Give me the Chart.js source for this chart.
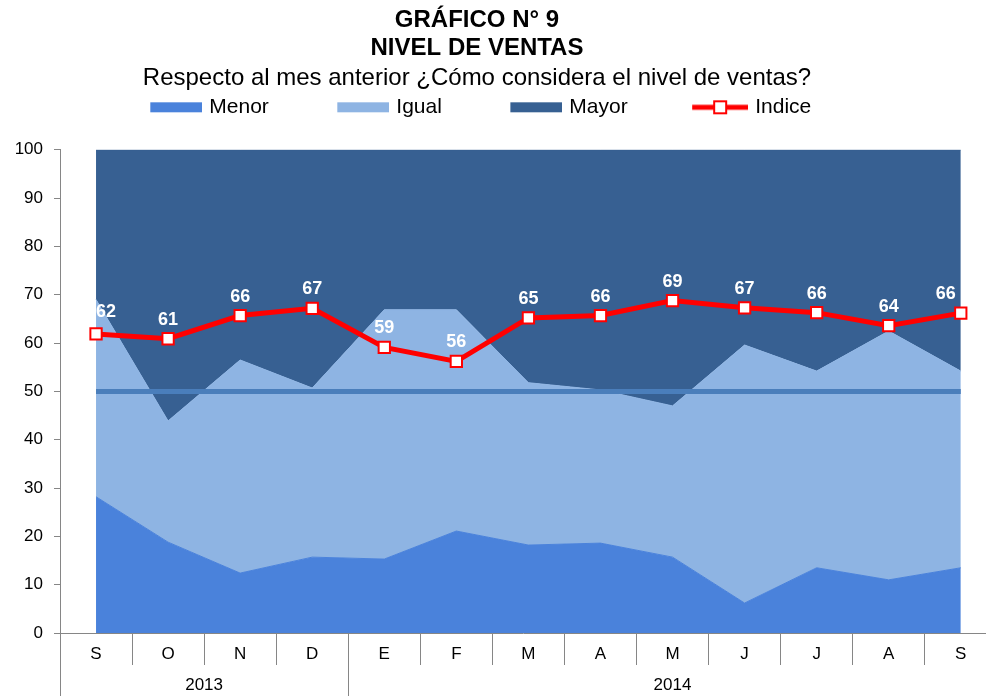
<!DOCTYPE html>
<html lang="es">
<head>
<meta charset="utf-8">
<title>Gráfico N° 9 - Nivel de ventas</title>
<script src="https://cdn.jsdelivr.net/npm/chart.js@4.4.1/dist/chart.umd.min.js"></script>
<style>
	html, body { margin: 0; padding: 0; background: #fff; overflow: hidden; }
	#wrap { width: 986px; height: 696px; }
</style>
</head>
<body>
<div id="wrap"><canvas id="ventas" width="986" height="696"></canvas></div>
<script>
const meses = ['S', 'O', 'N', 'D', 'E', 'F', 'M', 'A', 'M', 'J', 'J', 'A', 'S']
const anios = ['2013', '2014']
const anioDesde = [0, 4]
const anioHasta = [3, 12]

const menor = [28.2, 18.8, 12.4, 15.7, 15.3, 21.1, 18.2, 18.6, 15.7, 6.2, 13.5, 11.0, 13.5]
const igual = [40.8, 25.1, 44.1, 35.0, 51.6, 45.8, 33.6, 31.7, 31.3, 53.4, 40.7, 51.5, 40.7]
const mayor = [31.0, 56.1, 43.5, 49.3, 33.1, 33.1, 48.2, 49.7, 53.0, 40.4, 45.8, 37.5, 45.8]
const indice = [61.9, 60.9, 65.7, 67.2, 59.1, 56.2, 65.2, 65.7, 68.8, 67.3, 66.3, 63.6, 66.2]
const neutro = [50, 50, 50, 50, 50, 50, 50, 50, 50, 50, 50, 50, 50]

const colMenor = '#4a82db'
const colIgual = '#8eb4e3'
const colMayor = '#376092'
const colNeutro = '#4a7ebb'
const rojo = '#ff0000'
const gris = '#868686'
const fuente = "'Liberation Sans', Arial, sans-serif"

Chart.defaults.font.family = fuente
Chart.defaults.color = '#000'

const puntos = arr => arr.map((v, i) => ({ x: i, y: v }))

// cortes y centros de los años en el eje inferior
const cortes = anioDesde.map(d => d - 0.5)
const centros = anioDesde.map((d, k) => (d + anioHasta[k]) / 2)

// iconos de la leyenda (espacio vacío a la izquierda para separar items)
function icono(tipo, color) {
	const c = document.createElement('canvas')
	c.width = 119
	c.height = 20
	const g = c.getContext('2d')
	if (tipo === 'caja') {
		g.fillStyle = color
		g.fillRect(c.width - 52, 5, 52, 10)
	} else {
		g.strokeStyle = color
		g.lineWidth = 5
		g.beginPath()
		g.moveTo(c.width - 56, 10)
		g.lineTo(c.width, 10)
		g.stroke()
		g.fillStyle = '#fff'
		g.fillRect(c.width - 34, 4, 12, 12)
		g.lineWidth = 2
		g.strokeRect(c.width - 34, 4, 12, 12)
	}
	return c
}
const iconos = [icono('caja', colMenor), icono('caja', colIgual), icono('caja', colMayor), icono('linea', rojo)]

const etiquetas = {
	id: 'etiquetas',
	afterDatasetsDraw(chart) {
		const ctx = chart.ctx
		const pts = chart.getDatasetMeta(3).data
		ctx.save()
		ctx.font = 'bold 18px ' + fuente
		ctx.fillStyle = '#fff'
		ctx.textBaseline = 'bottom'
		pts.forEach((p, i) => {
			let dx = 0
			let dy = 10
			ctx.textAlign = 'center'
			if (i === 0) { ctx.textAlign = 'left'; dy = 13 }
			if (i === pts.length - 1) { ctx.textAlign = 'right'; dx = -5 }
			ctx.fillText(Math.round(indice[i]), p.x + dx, p.y - dy)
		})
		ctx.restore()
	}
}

const ajustes = {
	id: 'ajustes',
	beforeLayout(chart) {
		const lg = chart.legend
		if (lg && !lg._extra) {
			const fit = lg.fit
			lg.fit = function () {
				fit.call(this)
				this.height += 22
			}
			lg._extra = true
		}
	},
	afterUpdate(chart) {
		chart.boxes.forEach(b => {
			if (b.position !== 'top') return
			const dx = b === chart.legend ? 44 : 16
			b.left -= dx
			b.right -= dx
		})
	}
}

new Chart(document.getElementById('ventas'), {
	type: 'line',
	data: {
		datasets: [
			{
				label: 'Menor', data: puntos(menor), stack: 'areas', order: 2,
				backgroundColor: colMenor, borderColor: colMenor, borderWidth: 1, fill: 'origin', pointRadius: 0
			},
			{
				label: 'Igual', data: puntos(igual), stack: 'areas', order: 2,
				backgroundColor: colIgual, borderColor: colIgual, borderWidth: 1, fill: '-1', pointRadius: 0
			},
			{
				label: 'Mayor', data: puntos(mayor), stack: 'areas', order: 2,
				backgroundColor: colMayor, borderColor: colMayor, borderWidth: 1, fill: '-1', pointRadius: 0
			},
			{
				label: 'Indice', data: puntos(indice), stack: 'indice', order: 0,
				borderColor: rojo, borderWidth: 5, fill: false,
				pointStyle: 'rect', pointRadius: 8, pointBackgroundColor: '#fff', pointBorderColor: rojo, pointBorderWidth: 2
			},
			{
				label: 'Neutro', data: puntos(neutro), stack: 'neutro', order: 1,
				borderColor: colNeutro, borderWidth: 5, fill: false, pointRadius: 0
			}
		]
	},
	options: {
		responsive: false,
		devicePixelRatio: 1,
		animation: false,
		events: [],
		layout: { padding: 0, autoPadding: false },
		plugins: {
			title: {
				display: true,
				text: ['GRÁFICO N° 9', 'NIVEL DE VENTAS'],
				color: '#000',
				font: { size: 24, weight: 'bold', lineHeight: 28 / 24 },
				padding: { top: 6, bottom: 0 }
			},
			subtitle: {
				display: true,
				text: 'Respecto al mes anterior ¿Cómo considera el nivel de ventas?',
				color: '#000',
				font: { size: 24, lineHeight: 1.15 },
				padding: { top: 2.2, bottom: 0 }
			},
			legend: {
				labels: {
					usePointStyle: true,
					pointStyleWidth: 112,
					padding: 5,
					color: '#000',
					font: { size: 21 },
					sort: (a, b) => a.datasetIndex - b.datasetIndex,
					generateLabels: chart => Chart.defaults.plugins.legend.labels.generateLabels(chart)
						.filter(it => it.datasetIndex < 4)
						.map(it => Object.assign(it, { pointStyle: iconos[it.datasetIndex] }))
				}
			},
			tooltip: { enabled: false }
		},
		scales: {
			x: {
				type: 'linear', position: 'bottom', min: -0.5, max: 12.35, bounds: 'data', weight: 0,
				afterBuildTicks: s => { s.ticks = meses.map((m, i) => ({ value: i })) },
				ticks: { callback: v => meses[v], autoSkip: false, maxRotation: 0, font: { size: 17 }, padding: -20.4 },
				grid: { offset: true, drawOnChartArea: false, tickLength: 32, color: gris },
				border: { color: gris },
				afterFit: s => { s.height = 32 }
			},
			x2: {
				type: 'linear', position: 'bottom', min: -0.5, max: 12.35, bounds: 'data', weight: 1,
				afterBuildTicks: s => {
					s.ticks = cortes.concat(centros).sort((a, b) => a - b).map(v => ({ value: v }))
				},
				ticks: {
					callback: v => { const k = centros.indexOf(v); return k < 0 ? '' : anios[k] },
					autoSkip: false, maxRotation: 0, font: { size: 17 }, padding: -21
				},
				grid: {
					drawOnChartArea: false, tickLength: 31,
					color: c => (c.tick && cortes.includes(c.tick.value)) ? gris : 'rgba(0,0,0,0)'
				},
				border: { display: false },
				afterFit: s => { s.height = 31 }
			},
			y: {
				stacked: true, min: 0, max: 100,
				ticks: { stepSize: 10, font: { size: 17 }, padding: 11 },
				grid: { drawOnChartArea: false, tickLength: 6, color: gris },
				border: { color: gris },
				afterFit: s => { s.width = 60 }
			}
		}
	},
	plugins: [etiquetas, ajustes]
})
</script>
</body>
</html>
